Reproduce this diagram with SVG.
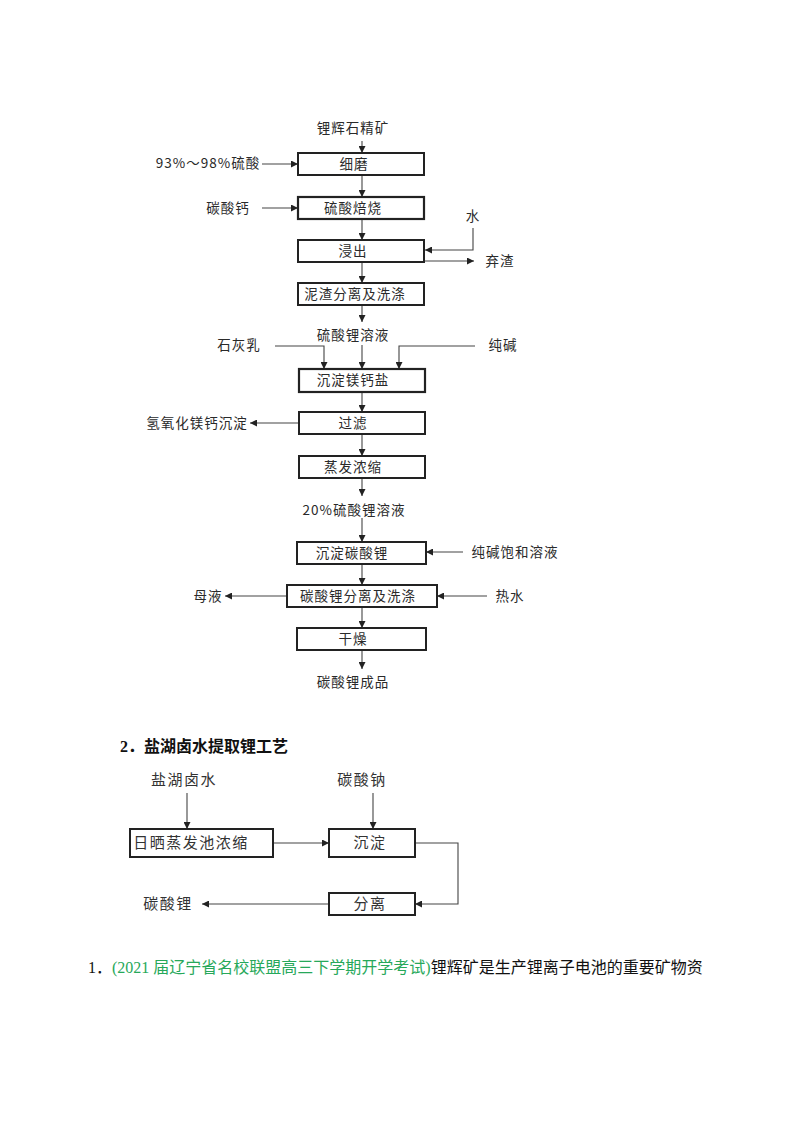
<svg xmlns="http://www.w3.org/2000/svg" width="800" height="1129" viewBox="0 0 800 1129">
<defs>
<marker id="ah" viewBox="0 0 8 8" refX="8" refY="4" markerWidth="7" markerHeight="7" markerUnits="userSpaceOnUse" orient="auto">
<path d="M0,0 L8,4 L0,8 z" fill="#222"/>
</marker>
<style>
.bx{fill:#fff;stroke:#222;stroke-width:2}
.bx2{fill:#fff;stroke:#222;stroke-width:2.2}
.t{font-family:"Noto Sans CJK SC","Liberation Sans",sans-serif;font-size:13.5px;fill:#2a2a2a;letter-spacing:1px}
.t2{font-family:"Noto Sans CJK SC","Liberation Sans",sans-serif;font-size:15px;fill:#333;letter-spacing:1.5px}
.c{stroke:#444;stroke-width:1.1;fill:none}
.ca{stroke:#444;stroke-width:1.1;fill:none;marker-end:url(#ah)}
</style>
</defs>
<rect width="800" height="1129" fill="#fff"/>

<g id="connectors">
<line class="ca" x1="362" y1="141" x2="362" y2="153"/>
<line class="ca" x1="362" y1="175" x2="362" y2="197"/>
<line class="ca" x1="362" y1="219" x2="362" y2="240"/>
<line class="ca" x1="362" y1="262" x2="362" y2="283"/>
<line class="ca" x1="362" y1="305" x2="362" y2="322"/>
<line class="ca" x1="362" y1="345" x2="362" y2="369"/>
<polyline class="ca" points="275,346 324,346 324,369"/>
<polyline class="ca" points="475,346 399,346 399,369"/>
<line class="ca" x1="362" y1="392" x2="362" y2="412"/>
<line class="ca" x1="362" y1="434" x2="362" y2="456"/>
<line class="ca" x1="362" y1="478" x2="362" y2="496"/>
<line class="ca" x1="362" y1="518" x2="362" y2="542"/>
<line class="ca" x1="362" y1="564" x2="362" y2="585"/>
<line class="ca" x1="362" y1="607" x2="362" y2="628"/>
<line class="ca" x1="362" y1="650" x2="362" y2="669"/>
<line class="ca" x1="262" y1="164" x2="298" y2="164"/>
<line class="ca" x1="262" y1="208" x2="298" y2="208"/>
<polyline class="ca" points="473,228 473,250 425,250"/>
<line class="ca" x1="425" y1="261" x2="474" y2="261"/>
<line class="ca" x1="299" y1="423" x2="250" y2="423"/>
<line class="ca" x1="463" y1="552" x2="426" y2="552"/>
<line class="ca" x1="287" y1="596" x2="225" y2="596"/>
<line class="ca" x1="487" y1="596" x2="437" y2="596"/>
<line class="ca" x1="187" y1="793" x2="187" y2="829"/>
<line class="ca" x1="373" y1="793" x2="373" y2="829"/>
<line class="ca" x1="273" y1="843" x2="329" y2="843"/>
<polyline class="ca" points="415,843 458,843 458,904 415,904"/>
<line class="ca" x1="329" y1="904" x2="202" y2="904"/>
</g>

<g id="labels">
<text class="t" x="353" y="133" text-anchor="middle">锂辉石精矿</text>
<text class="t" x="208" y="168" text-anchor="middle">93%～98%硫酸</text>
<text class="t" x="228" y="213" text-anchor="middle">碳酸钙</text>
<text class="t" x="473" y="221" text-anchor="middle">水</text>
<text class="t" x="500" y="266" text-anchor="middle">弃渣</text>
<text class="t" x="353" y="340" text-anchor="middle">硫酸锂溶液</text>
<text class="t" x="239" y="350" text-anchor="middle">石灰乳</text>
<text class="t" x="503" y="350" text-anchor="middle">纯碱</text>
<text class="t" x="197" y="428" text-anchor="middle">氢氧化镁钙沉淀</text>
<text class="t" x="354" y="515" text-anchor="middle">20%硫酸锂溶液</text>
<text class="t" x="515" y="557" text-anchor="middle">纯碱饱和溶液</text>
<text class="t" x="208" y="601" text-anchor="middle">母液</text>
<text class="t" x="510" y="601" text-anchor="middle">热水</text>
<text class="t" x="353" y="687" text-anchor="middle">碳酸锂成品</text>
<text x="120" y="752" font-family="Liberation Serif,Noto Sans CJK SC,serif" font-size="16" font-weight="bold" fill="#111">2．盐湖卤水提取锂工艺</text>
<text class="t2" x="184" y="785" text-anchor="middle">盐湖卤水</text>
<text class="t2" x="362" y="785" text-anchor="middle">碳酸钠</text>
<text class="t2" x="168" y="909" text-anchor="middle">碳酸锂</text>
</g>

<g id="n1"><rect class="bx" x="298" y="153" width="126" height="22"/><text class="t" x="354" y="169" text-anchor="middle">细磨</text></g>
<g id="n2"><rect class="bx2" x="298" y="197" width="126" height="22"/><text class="t" x="353" y="213" text-anchor="middle">硫酸焙烧</text></g>
<g id="n3"><rect class="bx" x="298" y="240" width="126" height="22"/><text class="t" x="353" y="256" text-anchor="middle">浸出</text></g>
<g id="n4"><rect class="bx" x="298" y="283" width="126" height="22"/><text class="t" x="355" y="299" text-anchor="middle">泥渣分离及洗涤</text></g>
<g id="n5"><rect class="bx2" x="299" y="369" width="126" height="23"/><text class="t" x="353" y="385" text-anchor="middle">沉淀镁钙盐</text></g>
<g id="n6"><rect class="bx" x="299" y="412" width="126" height="22"/><text class="t" x="353" y="428" text-anchor="middle">过滤</text></g>
<g id="n7"><rect class="bx" x="299" y="456" width="126" height="22"/><text class="t" x="353" y="472" text-anchor="middle">蒸发浓缩</text></g>
<g id="n8"><rect class="bx" x="297" y="542" width="129" height="22"/><text class="t" x="352" y="558" text-anchor="middle">沉淀碳酸锂</text></g>
<g id="n9"><rect class="bx" x="287" y="585" width="150" height="22"/><text class="t" x="358" y="601" text-anchor="middle">碳酸锂分离及洗涤</text></g>
<g id="n10"><rect class="bx" x="297" y="628" width="129" height="22"/><text class="t" x="353" y="644" text-anchor="middle">干燥</text></g>
<g id="n11"><rect class="bx" x="130" y="829" width="143" height="28"/><text class="t2" x="191" y="848" text-anchor="middle">日晒蒸发池浓缩</text></g>
<g id="n12"><rect class="bx" x="329" y="829" width="86" height="28"/><text class="t2" x="370" y="848" text-anchor="middle">沉淀</text></g>
<g id="n13"><rect class="bx" x="329" y="893" width="86" height="22"/><text class="t2" x="370" y="909" text-anchor="middle">分离</text></g>

<text x="88" y="973" font-family="Liberation Serif,Noto Sans CJK SC,serif" font-size="16" fill="#111">1．<tspan fill="#27a85a">(2021 届辽宁省名校联盟高三下学期开学考试)</tspan>锂辉矿是生产锂离子电池的重要矿物资</text>
</svg>
